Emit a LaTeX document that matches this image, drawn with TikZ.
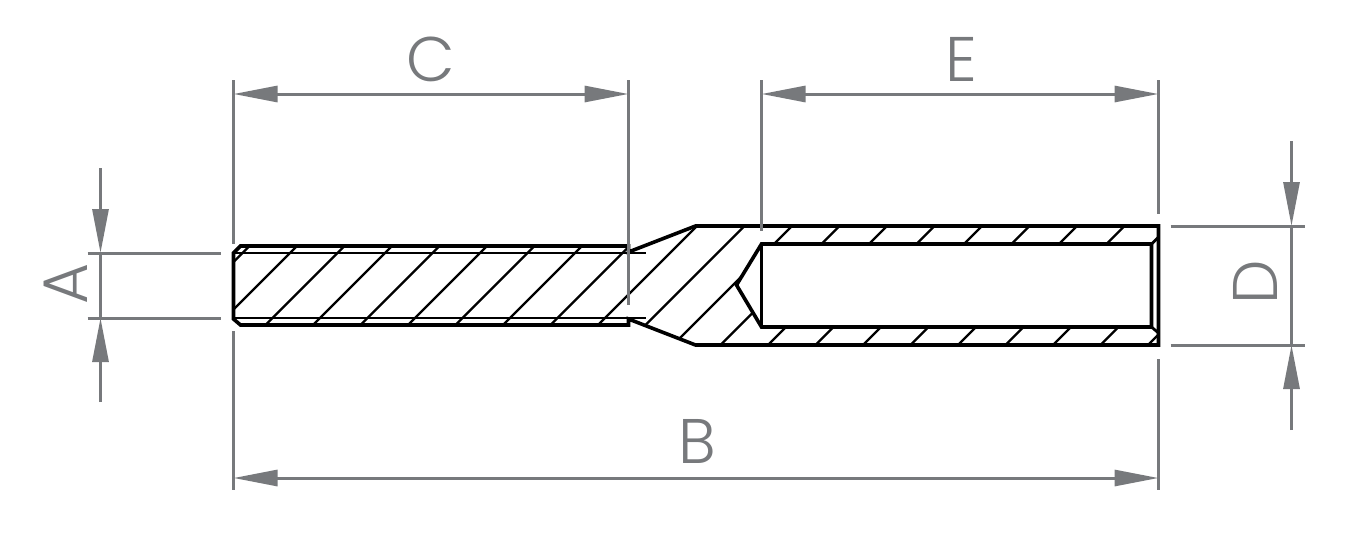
\documentclass[tikz,border=0pt]{standalone}
\usepackage{fontspec}
\setmainfont{Poppins Light}
\usetikzlibrary{arrows.meta}
\definecolor{dimgray}{HTML}{77797C}
\tikzset{
  outline/.style={draw=black, line width=3.6pt, line join=miter},
  thinline/.style={draw=black, line width=2.8pt},
  hatchline/.style={draw=black, line width=2.4pt},
  extline/.style={draw=dimgray, line width=3pt},
  dimline/.style={draw=dimgray, line width=3pt, {Triangle[length=44pt,width=16pt,fill=dimgray]}-{Triangle[length=44pt,width=16pt,fill=dimgray]}},
  leader/.style={draw=dimgray, line width=3pt, -{Triangle[length=44pt,width=16pt,fill=dimgray]}},
  letter/.style={text=dimgray, font=\fontsize{63}{63}\selectfont, inner sep=0pt}
}
\begin{document}
\begin{tikzpicture}[x=1pt,y=-1pt]
  \useasboundingbox (-0.5,0) rectangle (1361.5,552);
  \foreach \n/\xy in {lt/{233,253},lc/{240,246},nt/{628,246},nu/{628,252},st/{695,226},
            rt/{1158,226},rb/{1158,345},sb/{695,345},nl/{628,319},nb/{628,325},
            lk/{240,325},lb/{233,319},
            tl/{233,318},tr/{645,318},ul/{233,253},ur/{645,253},
            bt/{761,244},bs/{1151,244},bc/{1158,237},bd/{1158,333},bu/{1151,327},
            bb/{761,327},bk/{736,285}}
    \coordinate (\n) at (\xy);
  \begin{scope}
    \clip (lt) -- (lc) -- (nt) -- (nu) -- (st) -- (rt) -- (rb) -- (sb) -- (nl) -- (nb) -- (lk) -- (lb) -- cycle;
    \foreach \c in {0,...,21}
      \draw[hatchline] ({495+47.5*\c-130},130) -- ({495+47.5*\c-360},360);
  \end{scope}
  \fill[white] (bt) -- (bs) -- (bc) -- (bd) -- (bu) -- (bb) -- (bk) -- cycle;
  \draw[outline] (lt) -- (lc) -- (nt) -- (nu) -- (st) -- (rt) -- (rb) -- (sb) -- (nl) -- (nb) -- (lk) -- (lb) -- cycle;
  \draw[outline] (bk) -- (bt) -- (bs) -- (bu) -- (bb) -- cycle;
  \draw[outline] (bt) -- (bb);
  \draw[thinline] (bs) -- (bc) (bu) -- (bd);
  \draw[thinline] (ul) -- (ur) (tl) -- (tr);
  \foreach \n/\xy in {a1/{233,80},a2/{233,244},a3/{233,331},a4/{233,490},
            c1/{628,80},c2/{628,305},e1/{761,80},e2/{761,231},
            b1/{1158,80},b2/{1158,214},b3/{1158,359},b4/{1158,490},
            f1/{87,253},f2/{220,253},g1/{87,318},g2/{220,318},
            h1/{1170,226},h2/{1304,226},i1/{1170,345},i2/{1304,345},
            m1/{233,94},m2/{628,94},m3/{761,94},m4/{1158,94},m5/{233,478},m6/{1158,478},
            p1/{100,168},p2/{100,253},p3/{100,402},p4/{100,318},
            q1/{1291,141},q2/{1291,226},q3/{1291,430},q4/{1291,345}}
    \coordinate (\n) at (\xy);
  \foreach \s/\t in {a1/a2,a3/a4,c1/c2,e1/e2,b1/b2,b3/b4,f1/f2,g1/g2,h1/h2,i1/i2,p2/p4,q2/q4}
    \draw[extline] (\s) -- (\t);
  \foreach \s/\t in {m1/m2,m3/m4,m5/m6}
    \draw[dimline] (\s) -- (\t);
  \foreach \s/\t in {p1/p2,p3/p4,q1/q2,q3/q4}
    \draw[leader] (\s) -- (\t);
  \node[letter] (labelC) at (430,59) {C};
  \node[letter] (labelE) at (961,59) {E};
  \node[letter] (labelB) at (697,441) {B};
  \node[letter, rotate=90] (labelA) at (65,284) {A};
  \node[letter, rotate=90] (labelD) at (1255,282) {D};
\end{tikzpicture}
\end{document}
